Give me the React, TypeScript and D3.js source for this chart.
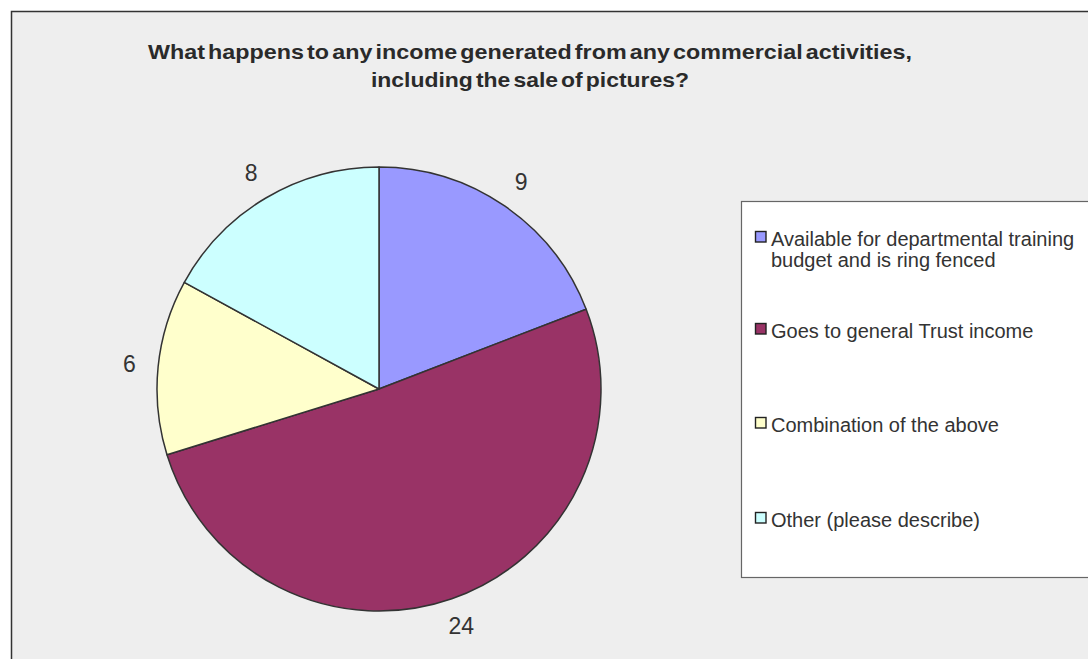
import React from "react";
import * as d3 from "d3";

const categories = [
  "Available for departmental training budget and is ring fenced",
  "Goes to general Trust income",
  "Combination of the above",
  "Other (please describe)",
];
const legendLines = [
  ["Available for departmental training", "budget and is ring fenced"],
  ["Goes to general Trust income"],
  ["Combination of the above"],
  ["Other (please describe)"],
];
const values = [9, 24, 6, 8];
const colors = ["#9999ff", "#993366", "#ffffcc", "#ccffff"];
const titleLines = [
  "What happens to any income generated from any commercial activities,",
  "including the sale of pictures?",
];
const titleWidths = [764, 318];

export default function App() {
  const W = 1088, H = 659;
  const cx = 379, cy = 389, r = 222, lr = 251;
  const pie = d3.pie<number>().sort(null).value((d) => d);
  const arcs = pie(values);
  const arc = d3.arc<d3.PieArcDatum<number>>().innerRadius(0).outerRadius(r);
  const legendBase = [246, 338, 432, 527];
  return (
    <svg width={W} height={H} style={{ position: "absolute", left: 0, top: 0 }} fontFamily="'Liberation Sans', Arial, sans-serif">
      <rect x={0} y={0} width={W} height={H} fill="#ffffff" />
      <rect x={11.5} y={11.5} width={W + 10} height={H + 10} fill="#eeeeee" stroke="#333" strokeWidth={1.5} />
      {titleLines.map((t, i) => (
        <text key={i} x={530} y={59 + i * 28} textAnchor="middle" fontSize={21} fontWeight="bold" fill="#2a2a2a"
          wordSpacing={-3} textLength={titleWidths[i]} lengthAdjust="spacingAndGlyphs">{t}</text>
      ))}
      <g transform={`translate(${cx},${cy})`}>
        {arcs.map((a, i) => (
          <path key={i} d={arc(a)!} fill={colors[i]} stroke="#333" strokeWidth={1.5} strokeLinejoin="round" />
        ))}
        {arcs.map((a, i) => {
          const m = (a.startAngle + a.endAngle) / 2;
          return (
            <text key={"l" + i} x={lr * Math.sin(m)} y={-lr * Math.cos(m)} dy="0.35em" textAnchor="middle" fontSize={23} fill="#333">{values[i]}</text>
          );
        })}
      </g>
      <rect x={741.5} y={201.5} width={400} height={376} fill="#ffffff" stroke="#666" strokeWidth={1.2} />
      {categories.map((c, i) => (
        <g key={c}>
          <rect x={755.5} y={legendBase[i] - 14.5} width={10.5} height={10.5} fill={colors[i]} stroke="#222" strokeWidth={1.4} />
          {legendLines[i].map((l, j) => (
            <text key={j} x={771} y={legendBase[i] + j * 21} fontSize={20} fill="#333">{l}</text>
          ))}
        </g>
      ))}
    </svg>
  );
}
